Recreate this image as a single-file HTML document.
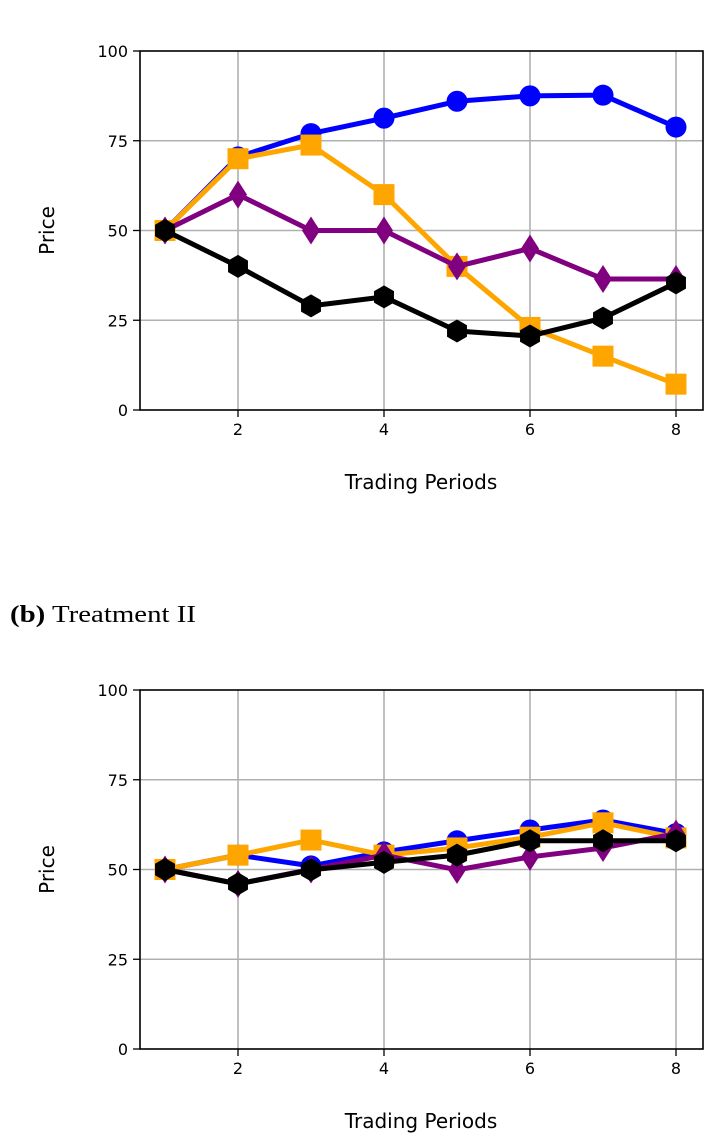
<!DOCTYPE html>
<html><head><meta charset="utf-8"><style>
body{margin:0;background:#fff;width:720px;height:1140px;overflow:hidden}
svg text{font-family:"DejaVu Sans","Liberation Sans",sans-serif;fill:#000}
</style></head><body>
<svg id="s" width="720" height="1140" viewBox="0 0 720 1140" xmlns="http://www.w3.org/2000/svg">
<text x="10" y="622" textLength="186" lengthAdjust="spacingAndGlyphs" style="font-family:'Liberation Serif',serif;font-size:24px"><tspan font-weight="bold">(b)</tspan> Treatment II</text>
</svg>
<script>
const periods=[1,2,3,4,5,6,7,8];
const xTicks=[2,4,6,8];
const yTicks=[0,25,50,75,100];
const aBlue=[50,70.5,77,81.3,86,87.5,87.7,78.8];
const aOrange=[50,70,73.8,60,40,23,15,7.2];
const aPurple=[50,60,50,50,40,45,36.5,36.5];
const aBlack=[50,40,29,31.5,22,20.6,25.6,35.4];
const bBlue=[50,54,51,54.9,58,61,63.8,60];
const bOrange=[50,54,58.2,54,56,59,63,58.8];
const bPurple=[50,46,50,54,49.9,53.5,56,60];
const bBlack=[50,46,49.9,52,54,58,58,58];
const NS="http://www.w3.org/2000/svg";
const svg=document.getElementById('s');
function mk(t,a,p){const e=document.createElementNS(NS,t);for(const k in a)e.setAttribute(k,a[k]);(p||svg).appendChild(e);return e;}
function chart(top,series,name){
  const L=140,R=703,T=top,B=top+359;
  const xs=v=>165+(v-1)*73, ys=v=>B-v*3.59;
  const g=mk('g',{});
  
  
  xTicks.forEach(t=>{
    const l=mk('line',{x1:xs(t),x2:xs(t),y1:T,y2:B,stroke:'#b0b0b0','stroke-width':1.6},g);
    
    mk('line',{x1:xs(t),x2:xs(t),y1:B,y2:B+7,stroke:'#000','stroke-width':1.3},g);
    const tx=mk('text',{x:xs(t),y:B+25,'text-anchor':'middle','font-size':16},g);tx.textContent=t;
    
  });
  yTicks.forEach(t=>{
    if(t>0&&t<100){const l=mk('line',{x1:L,x2:R,y1:ys(t),y2:ys(t),stroke:'#b0b0b0','stroke-width':1.6},g);
    }
    mk('line',{x1:L-7,x2:L,y1:ys(t),y2:ys(t),stroke:'#000','stroke-width':1.3},g);
    const tx=mk('text',{x:L-12,y:ys(t)+6,'text-anchor':'end','font-size':16},g);tx.textContent=t;
    
  });
  series.forEach(([vals,col,shape,sn])=>{
    const sg=mk('g',{},g);
    
    
    mk('polyline',{points:vals.map((v,i)=>xs(periods[i])+','+ys(v)).join(' '),fill:'none',stroke:col,'stroke-width':5,'stroke-linejoin':'round'},sg);
    vals.forEach((v,i)=>{
      const x=xs(periods[i]),y=ys(v);let m;
      if(shape==='circle')m=mk('circle',{cx:x,cy:y,r:10.5,fill:col},sg);
      else if(shape==='square')m=mk('rect',{x:x-10.5,y:y-10.5,width:21,height:21,fill:col},sg);
      else if(shape==='diamond')m=mk('polygon',{points:`${x},${y-14} ${x+9},${y} ${x},${y+14} ${x-9},${y}`,fill:col},sg);
      else{const p=[];for(let k=0;k<6;k++){const a=Math.PI/6+k*Math.PI/3;p.push((x+11.5*Math.cos(a))+','+(y+11.5*Math.sin(a)));}m=mk('polygon',{points:p.join(' '),fill:col},sg);}
      
      
    });
  });
  const fr=mk('rect',{x:L,y:T,width:R-L,height:B-T,fill:'none',stroke:'#000','stroke-width':1.6},g);
  
  const xl=mk('text',{x:421,y:B+79,'text-anchor':'middle','font-size':20},g);xl.textContent='Trading Periods';
  
  const yl=mk('text',{x:0,y:0,'text-anchor':'middle','font-size':20,transform:`translate(54,${(T+B)/2}) rotate(-90)`},g);yl.textContent='Price';
  
}
chart(51,[[aBlue,'#0000ff','circle','series-blue'],[aOrange,'#ffa500','square','series-orange'],[aPurple,'#800080','diamond','series-purple'],[aBlack,'#000000','hex','series-black']],'chart-a');
chart(690,[[bBlue,'#0000ff','circle','series-blue'],[bOrange,'#ffa500','square','series-orange'],[bPurple,'#800080','diamond','series-purple'],[bBlack,'#000000','hex','series-black']],'chart-b');
</script>
</body></html>
